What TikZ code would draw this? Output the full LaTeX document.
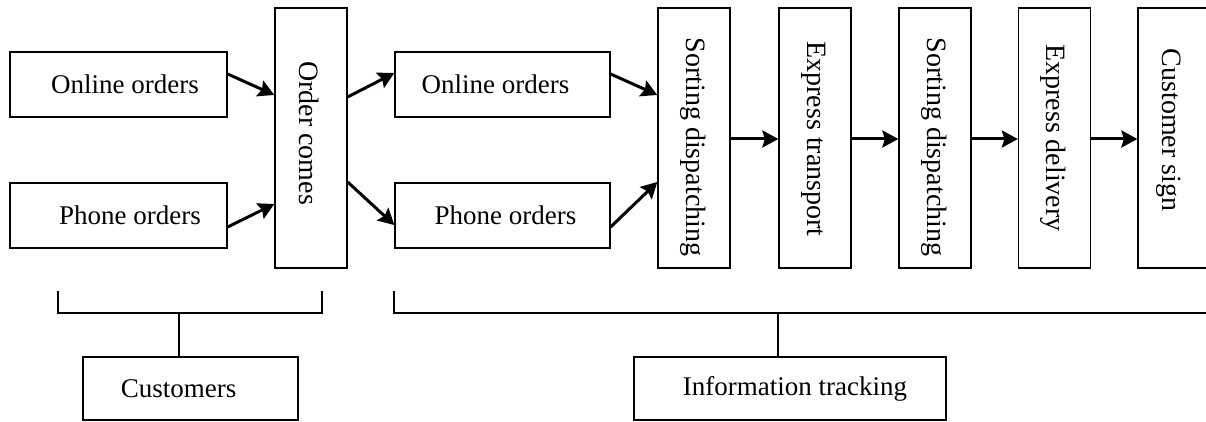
\documentclass[tikz,border=0pt]{standalone}
\usepackage{fontspec}
\setmainfont{Liberation Serif}
\usetikzlibrary{arrows.meta,calc}
\begin{document}
\begin{tikzpicture}[x=1pt,y=-1pt,
  box/.style={draw,line width=1.3pt,inner sep=0pt,font=\fontsize{27}{32}\selectfont},
  hbox/.style={box,minimum width=217pt,minimum height=65pt},
  vbox/.style={box,minimum width=72pt,minimum height=260pt},
  vtext/.style={rotate=-90,font=\fontsize{28}{32}\selectfont},
  arr/.style={line width=3pt,-{Stealth[length=16pt,width=17pt,inset=2.5pt]}},
  brk/.style={line width=1.2pt}]
\useasboundingbox (0,0) rectangle (1206,422);
\node[hbox] (on1) at (118.5,84.5) {\hspace*{13pt}Online orders};
\node[hbox] (ph1) at (118.5,215.5) {\hspace*{23pt}Phone orders};
\node[vbox] (oc) at (311,138) {};
\node[vtext] at (309,133) {Order comes};
\node[hbox,minimum width=215pt] (on2) at (502.5,84.5) {\hspace*{-14pt}Online orders};
\node[hbox,minimum width=215pt] (ph2) at (502.5,215.5) {\hspace*{6pt}Phone orders};
\node[vbox] (sd1) at (694,138) {};
\node[vtext] at (693,147) {Sorting dispatching};
\node[vbox] (et) at (815,138) {};
\node[vtext] at (814,139) {Express transport};
\node[vbox] (sd2) at (935,138) {};
\node[vtext] at (934,147) {Sorting dispatching};
\node[vbox] (ed) at (1054.5,138) {};
\node[vtext] at (1053.5,138) {Express delivery};
\node[vbox] (cs) at (1174,138) {};
\node[vtext] at (1169,130) {Customer sign};
\node[box,minimum width=215pt,minimum height=63pt] (cu) at (190.5,388.5) {\hspace*{-24pt}Customers};
\node[box,minimum width=312pt,minimum height=63pt] (it) at (790,388.5) {\hspace*{10pt}Information tracking};
% arrows
\draw[arr] ([yshift=10.5pt]on1.east) -- ([yshift=43pt]oc.west);
\draw[arr] ([yshift=-11.5pt]ph1.east) -- ([yshift=-66pt]oc.west);
\draw[arr] ([yshift=41pt]oc.east) -- ([yshift=11.5pt]on2.west);
\draw[arr] ([yshift=-44pt]oc.east) -- ([yshift=-9.5pt]ph2.west);
\draw[arr] ([yshift=10.5pt]on2.east) -- ([yshift=43pt]sd1.west);
\draw[arr] ([yshift=-11.5pt]ph2.east) -- ([yshift=-44pt]sd1.west);
\draw[arr] ([yshift=-1pt]sd1.east) -- ([yshift=-1pt]et.west);
\draw[arr] ([yshift=-1pt]et.east) -- ([yshift=-1pt]sd2.west);
\draw[arr] ([yshift=-1pt]sd2.east) -- ([yshift=-1pt]ed.west);
\draw[arr] ([yshift=-1pt]ed.east) -- ([yshift=-1pt]cs.west);
% brackets
\coordinate (b1) at (179,313);
\coordinate (b2) at (778,313);
\draw[brk] (58,291) -- (58,313) -- (322,313) -- (322,291);
\draw[brk] (b1) -- (b1 |- cu.north);
\draw[brk] (394,291) -- (394,313) -- (1210,313);
\draw[brk] (b2) -- (b2 |- it.north);
\end{tikzpicture}
\end{document}
